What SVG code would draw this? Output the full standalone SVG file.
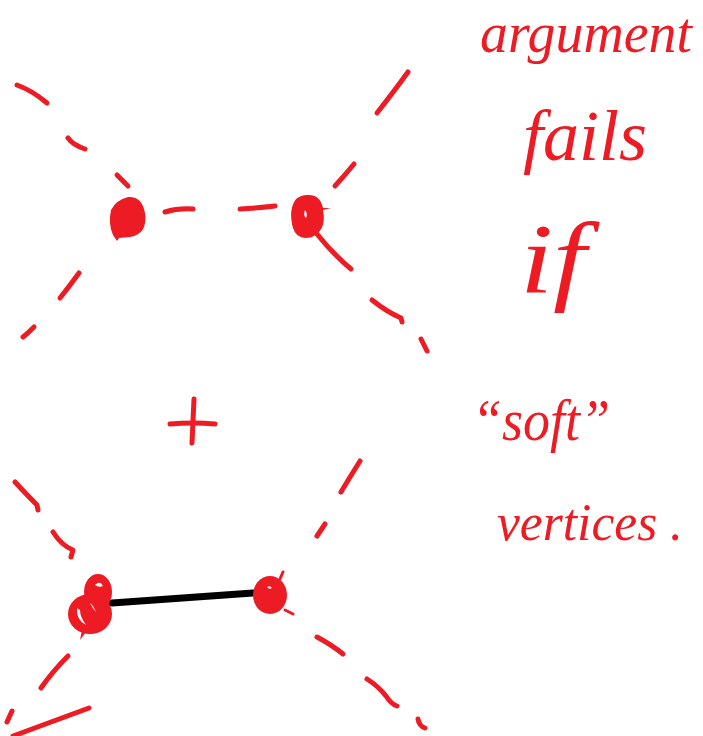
<svg xmlns="http://www.w3.org/2000/svg" width="703" height="736" viewBox="0 0 703 736">
<style>
.s{fill:none;stroke:#ED1C24;stroke-width:5;stroke-linecap:round;stroke-linejoin:round}
.v{fill:#ED1C24}
.e{fill:none;stroke:#000;stroke-width:7;stroke-linecap:round}
.t{fill:#ED1C24;font-family:"Liberation Serif","DejaVu Serif",serif;font-style:italic}
</style>
<rect width="703" height="736" fill="#fff"/>
<g id="connectors">
<path class="s" d="M17,85 Q33,91 47,103"/>
<path class="s" d="M68,138 Q73,145 85,149"/>
<path class="s" d="M117,175 L128,186"/>
<path class="s" d="M165,212 Q178,208 193,209"/>
<path class="s" d="M240,209 Q258,208 275,206"/>
<path class="s" d="M335,186 Q345,175 354,164"/>
<path class="s" d="M377,113 Q395,90 408,72"/>
<path class="s" d="M317,234 Q333,254 351,269"/>
<path class="s" d="M372,300 Q387,312 401,318 L402,322"/>
<path class="s" d="M421,339 L427,351"/>
<path class="s" d="M79,273 Q68,288 60,298"/>
<path class="s" d="M34,327 Q27,334 23,337"/>
<path class="s" d="M170,424 Q193,422 215,424"/>
<path class="s" d="M194,399 Q193,420 192,443"/>
<path class="s" d="M15,482 Q28,496 37,505 L38,510"/>
<path class="s" d="M53,532 Q62,546 73,550 L71,557"/>
<path class="e" d="M112,603 Q180,598 253,593"/>
<path class="s" d="M360,461 Q350,477 341,492"/>
<path class="s" d="M325,524 L317,536"/>
<path class="s" d="M317,637 Q332,645 343,654"/>
<path class="s" d="M367,679 Q378,686 386,696 Q391,704 397,706"/>
<path class="s" d="M418,719 Q419,726 425,728"/>
<path class="s" d="M68,656 Q52,672 41,688"/>
<path class="s" d="M12,711 L7,722"/>
<path class="s" d="M89,708 L13,736"/>
</g>
<g id="node-top-left">
<path class="v" d="M128,197 Q142,196 145,213 Q148,234 130,237 L119,238 L117,241 L113,235 Q108,224 111,210 Q116,200 128,197 Z"/>
</g>
<g id="node-top-right">
<path class="v" fill-rule="evenodd" d="M307,195 Q320,194 323,208 L331,208 L323,210 Q327,230 312,237 Q297,241 293,228 Q288,210 296,199 Q301,195 307,195 Z M305,210 Q303,215 306,218 Q308,214 305,210 Z"/>
</g>
<g id="node-bottom-left">
<ellipse class="v" cx="98" cy="592" rx="14" ry="18"/>
<ellipse class="v" cx="90" cy="614" rx="22" ry="20"/>
<path class="v" d="M82,630 L80,640 L86,632 Z"/>
<path fill="#fff" d="M95,585 Q100,580 103,586 Q99,588 95,585 Z"/>
<path fill="#fff" d="M77,608 Q76,620 86,625 Q80,617 80,610 Z"/>
<path fill="#fff" d="M90,603 Q93,609 96,612 Q93,605 90,603 Z"/>
</g>
<g id="node-bottom-right">
<ellipse class="v" cx="270" cy="595" rx="17" ry="19"/>
<path class="s" style="stroke-width:3" d="M280,579 L283,572 M285,610 L293,614"/>
<path fill="#fff" d="M267,587 Q270,585 272,588 Q269,590 267,587 Z"/>
</g>
<g id="note">
<text class="t" x="480" y="52" font-size="56" textLength="212" lengthAdjust="spacingAndGlyphs">argument</text>
<text class="t" x="523" y="160" font-size="72" textLength="124" lengthAdjust="spacingAndGlyphs">fails</text>
<text class="t" x="520" y="292" font-size="100" textLength="66" lengthAdjust="spacingAndGlyphs">if</text>
<text class="t" x="472" y="440" font-size="60" textLength="138" lengthAdjust="spacingAndGlyphs">“soft”</text>
<text class="t" x="497" y="540" font-size="52" textLength="186" lengthAdjust="spacingAndGlyphs">vertices .</text>
</g>
</svg>
